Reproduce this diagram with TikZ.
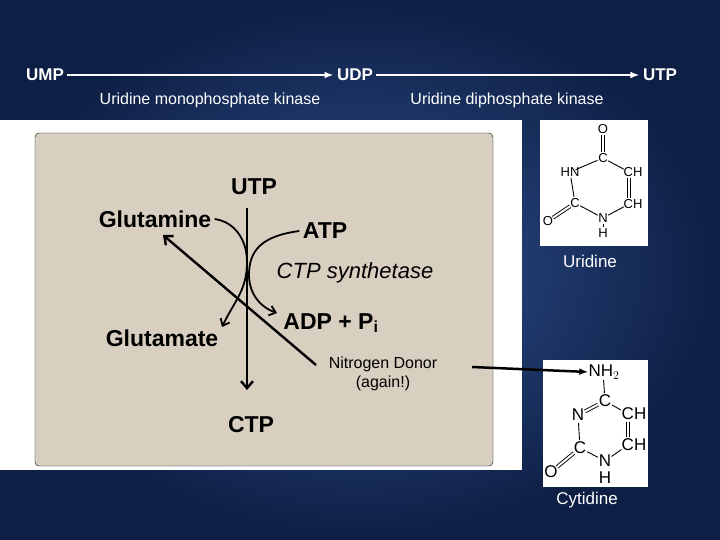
\documentclass[tikz,border=0pt]{standalone}
\usepackage{fontspec}
\setmainfont{Liberation Sans}
\usetikzlibrary{arrows.meta}
\definecolor{bgin}{HTML}{2F5290}
\definecolor{bgout}{HTML}{0E1F45}
\definecolor{tan}{HTML}{D9CFC1}
\tikzset{
  big/.style={font=\fontsize{23}{26}\selectfont\bfseries},
  toplbl/.style={text=white,font=\fontsize{17}{19}\selectfont\bfseries},
  atom/.style={inner sep=0pt,font=\fontsize{13}{14}\selectfont},
  catom/.style={inner sep=0pt,font=\fontsize{17}{18}\selectfont},
  bond/.style={line width=0.9pt,shorten <=6pt,shorten >=6pt},
  dbond/.style={bond,double,double distance=2pt},
  rx/.style={line width=2.4pt,-{Straight Barb[length=7pt,width=12pt]}},
  curvy/.style={line width=1.8pt},
}
\begin{document}
\begin{tikzpicture}[x=1pt,y=-1pt]
    \useasboundingbox (0,0) rectangle (720,540);
    \shade[inner color=bgin,outer color=bgout] (0,0) rectangle (720,540);
    % top reactions
    \node[toplbl] (ump) at (45,75) {UMP};
    \node[toplbl] (udp) at (355,75) {UDP};
    \node[toplbl] (utp) at (660,75) {UTP};
    \draw[white,line width=1.6pt,-{Latex[length=9pt]}] (ump) -- (udp);
    \draw[white,line width=1.6pt,-{Latex[length=9pt]}] (udp) -- (utp);
    \node[toplbl,font=\fontsize{16}{18}\selectfont] (k1) at (210,100) {Uridine monophosphate kinase};
    \node[toplbl,font=\fontsize{16}{18}\selectfont] (k2) at (507,100) {Uridine diphosphate kinase};
    % panel
    \fill[white] (0,120) rectangle (522,470);
    \draw[fill=tan,rounded corners=4pt] (35,133) rectangle (493,466);
    \node[big] (utpb) at (254,187) {UTP};
    \node[big] (ctp) at (251,425) {CTP};
    \node[big] (gln) at (155,219) {Glutamine};
    \node[big] (glu) at (162,338) {Glutamate};
    \node[big] (atp) at (325,231) {ATP};
    \node[big] (adp) at (331,323) {ADP + P$_\mathbf{i}$};
    \node[font=\fontsize{22}{25}\selectfont\itshape] (syn) at (355,273) {CTP synthetase};
    \coordinate (top) at (247,208);
    \coordinate (bot) at (247,390);
    \draw[rx] (top) -- (bot);
    \draw[curvy,-{Straight Barb[length=6pt,width=10pt]}] (gln.east) .. controls (235,222) and (247,240) .. (247,262)
        .. controls (247,290) and (235,300) .. (222,327);
    \draw[curvy,-{Straight Barb[length=6pt,width=10pt]}] (atp.west) .. controls (262,236) and (249,250) .. (249,275)
        .. controls (249,295) and (262,308) .. (277,313);
    \node[font=\fontsize{16}{19}\selectfont,align=center] (donor) at (383,374) {Nitrogen Donor\\(again!)};
    \coordinate (d0) at (316,365);
    \draw[rx] (d0) -- (163,235);
    % uridine
    \fill[white] (540,120) rectangle (648,246);
    \node[atom] (uo) at (603,129) {O};
    \node[atom] (uc4) at (603,158) {C};
    \node[atom] (un3) at (570,172) {HN};
    \node[atom] (uc5) at (633,172) {CH};
    \node[atom] (uc6) at (633,204) {CH};
    \node[atom] (uc2) at (575,203) {C};
    \node[atom] (un1) at (603,218) {N};
    \node[atom] (uh) at (603,233) {H};
    \node[atom] (uo2) at (548,221) {O};
    \coordinate (uc5c) at (629,172);
    \coordinate (uc6c) at (629,204);
    \foreach \a/\b in {uc4/un3, uc4/uc5c, un3/uc2, uc2/un1, un1/uc6c, un1/uh}
        \draw[bond] (\a.center) -- (\b.center);
    \foreach \a/\b in {uo/uc4, uc5c/uc6c, uc2/uo2}
        \draw[dbond] (\a.center) -- (\b.center);
    \node[text=white,font=\fontsize{17}{19}\selectfont] (urid) at (590,261) {Uridine};
    % cytidine
    \fill[white] (543,360) rectangle (648,487);
    \node[catom] (cn4) at (604,372) {NH$_2$};
    \node[catom] (cc4) at (605,401) {C};
    \node[catom] (cn3) at (578,415) {N};
    \node[catom] (cc5) at (634,414) {CH};
    \node[catom] (cc6) at (634,445) {CH};
    \node[catom] (cc2) at (580,448) {C};
    \node[catom] (cn1) at (605,461) {N};
    \node[catom] (ch) at (605,478) {H};
    \node[catom] (co2) at (551,472) {O};
    \coordinate (cn4c) at (603,372);
    \coordinate (cc5c) at (628,414);
    \coordinate (cc6c) at (628,445);
    \foreach \a/\b in {cn4c/cc4, cc4/cc5c, cn3/cc2, cc2/cn1, cn1/cc6c}
        \draw[bond,shorten <=8pt,shorten >=8pt] (\a.center) -- (\b.center);
    \foreach \a/\b in {cc4/cn3, cc5c/cc6c, cc2/co2}
        \draw[dbond,shorten <=8pt,shorten >=8pt] (\a.center) -- (\b.center);
    \node[text=white,font=\fontsize{17}{19}\selectfont] (cyt) at (587,500) {Cytidine};
    \coordinate (d1) at (472,367);
    \draw[line width=2.5pt,-{Latex[length=9pt]}] (d1) -- (cn4.west);
\end{tikzpicture}
\end{document}
